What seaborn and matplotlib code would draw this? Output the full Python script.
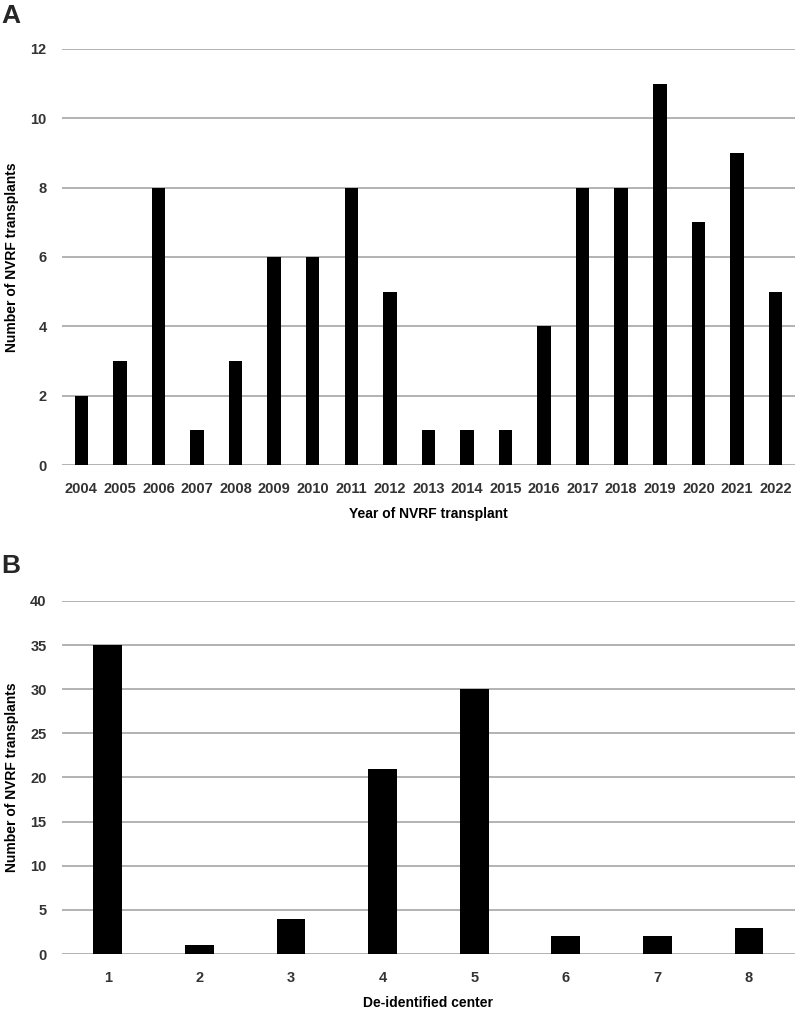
import numpy as np
import pandas as pd
import seaborn as sns
import matplotlib.pyplot as plt

# 数据
years = ['2004', '2005', '2006', '2007', '2008', '2009', '2010', '2011', '2012', '2013',
         '2014', '2015', '2016', '2017', '2018', '2019', '2020', '2021', '2022']
year_counts = [2, 3, 8, 1, 3, 6, 6, 8, 5, 1, 1, 1, 4, 8, 8, 11, 7, 9, 5]

centers = ['1', '2', '3', '4', '5', '6', '7', '8']
center_counts = [35, 1, 4, 21, 30, 2, 2, 3]

sns.set_style('white')
plt.rcParams['font.family'] = ['Liberation Sans', 'DejaVu Sans']

fig = plt.figure(figsize=(8, 10.1), dpi=100)
ax1 = fig.add_axes([0.0775, 0.5396, 0.916, 0.4119])
ax2 = fig.add_axes([0.0775, 0.0554, 0.916, 0.3496])


def style_axis(ax, ymax, step, xlabel):
    ax.set_ylim(0, ymax)
    ax.set_yticks(np.arange(0, ymax + 1, step))
    ax.yaxis.grid(True, color='#a6a6a6', linewidth=1.2)
    ax.set_axisbelow(True)
    for s in ax.spines.values():
        s.set_visible(False)
    ax.tick_params(axis='both', length=0, labelsize=10.5, colors='#333333')
    ax.tick_params(axis='y', pad=11)
    ax.tick_params(axis='x', pad=12)
    for lab in ax.get_xticklabels() + ax.get_yticklabels():
        lab.set_fontweight('bold')
    ax.set_xlabel(xlabel, fontsize=10, fontweight='bold', color='black', labelpad=8)
    ax.set_ylabel('Number of NVRF transplants', fontsize=10, fontweight='bold',
                  color='black', labelpad=8)


df1 = pd.DataFrame({'year': years, 'n': year_counts})
sns.barplot(data=df1, x='year', y='n', color='black', width=0.35, saturation=1,
            linewidth=0, ax=ax1)
style_axis(ax1, 12, 2, 'Year of NVRF transplant')
ax1.set_xlim(-0.5, len(years) - 0.5)

df2 = pd.DataFrame({'center': centers, 'n': center_counts})
sns.barplot(data=df2, x='center', y='n', color='black', width=0.315, saturation=1,
            linewidth=0, ax=ax2)
style_axis(ax2, 40, 5, 'De-identified center')
ax2.set_xlim(-0.5, len(centers) - 0.5)

fig.text(0.002, 0.996, 'A', fontsize=19, fontweight='bold', va='top', ha='left')
fig.text(0.002, 0.451, 'B', fontsize=19, fontweight='bold', va='top', ha='left')

fig.savefig('out.png', dpi=100)
